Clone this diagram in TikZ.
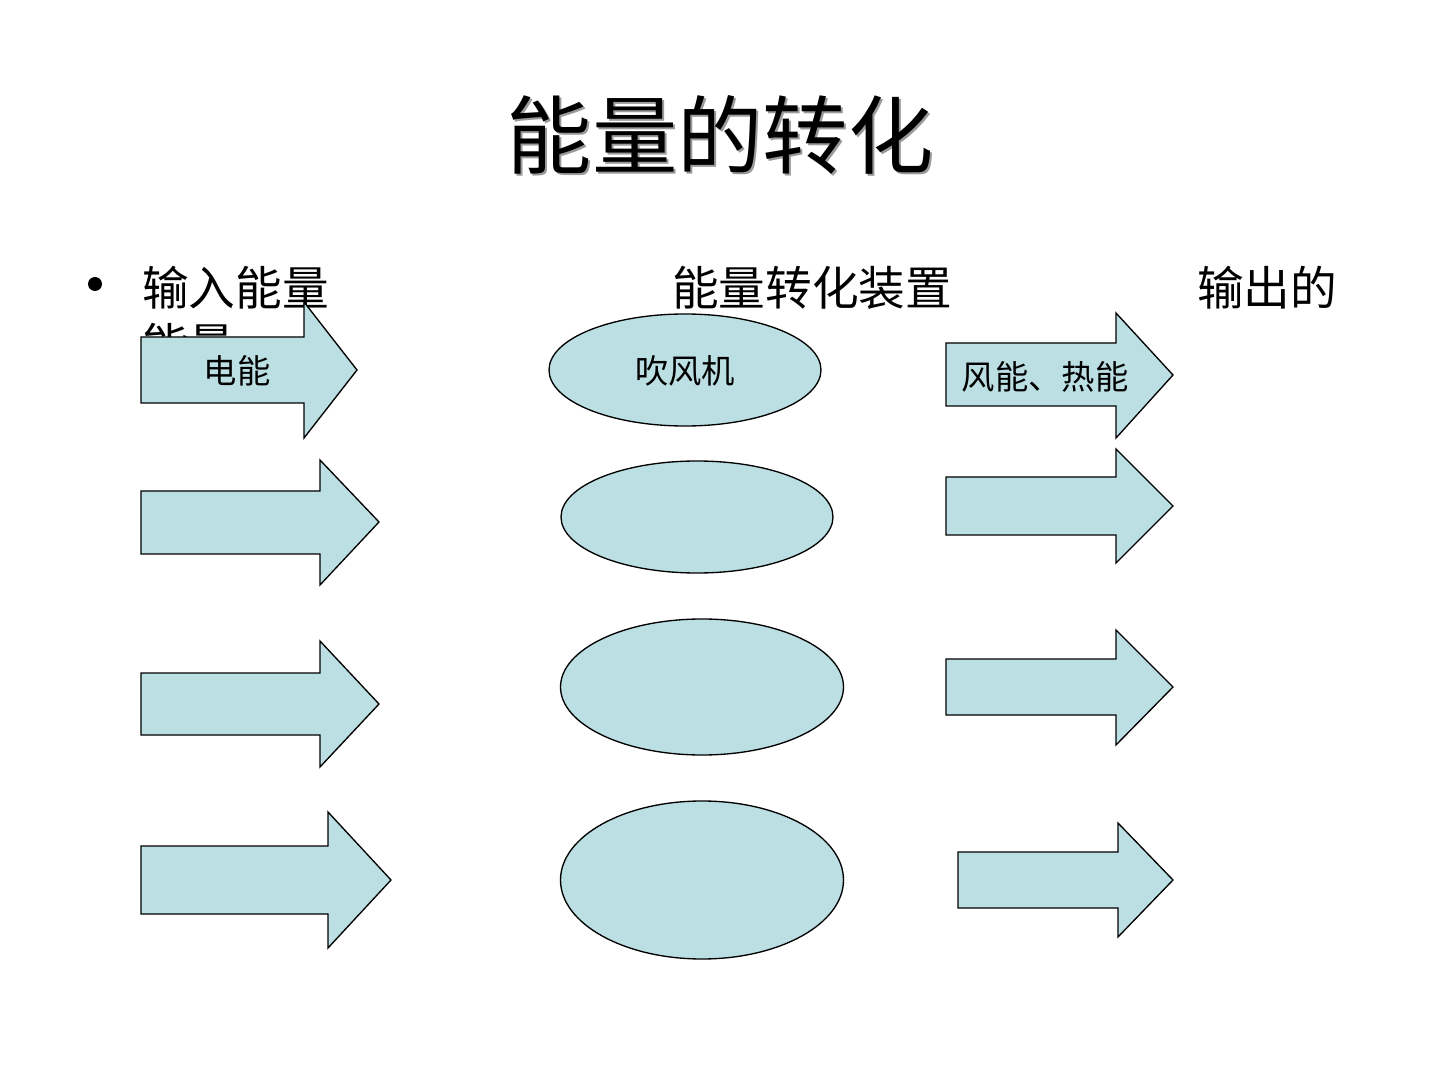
\documentclass[tikz,border=0pt]{standalone}
\usepackage{fontspec}
\setmainfont{Noto Sans CJK SC}
\usetikzlibrary{shapes.geometric}
\definecolor{shapefill}{HTML}{BBDFE3}
\definecolor{shadowgray}{HTML}{9A9A9A}
\tikzset{
  shapeline/.style={draw=black, line width=1pt, fill=shapefill, line join=miter},
  title/.style={font=\fontsize{64}{70}\selectfont, inner sep=0pt},
  heading/.style={font=\fontsize{35}{42}\selectfont, inner sep=0pt, anchor=base west},
  label/.style={font=\fontsize{25}{30}\selectfont, inner sep=0pt},
  device/.style={shapeline, ellipse, inner sep=0pt},
}
% block arrow: #1 name, #2 body left x, #3 head base x, #4 tip x,
% #5 body top y, #6 body bottom y, #7 head top y, #8 head bottom y, #9 tip y
\newcommand{\blockarrow}[9]{%
  \draw[shapeline] (#2,#5) -- (#3,#5) -- (#3,#7) -- (#4,#9) -- (#3,#8)
    -- (#3,#6) -- (#2,#6) -- cycle;
  \coordinate (#1) at ({(#2+#4)/2},#9);
}
\begin{document}
\begin{tikzpicture}[x=0.75pt, y=-0.75pt]
\useasboundingbox (0,0) rectangle (1440,1080);
\fill[white] (0,0) rectangle (1440,1080);

% title with its soft shadow
\node[title, text=shadowgray] (titleshadow) at (722,137) {能量的转化};
\node[title] (title) at (720,135) {能量的转化};

% bullet line
\fill (95,284) circle (7);
\node[heading] (inlabel) at (142,306) {输入能量};
\node[heading] (inwrap) at (142,363) {能量};
\node[heading] (devlabel) at (672,306) {能量转化装置};
\node[heading] (outlabel) at (1197,306) {输出的};

% input arrows
\blockarrow{in1}{141}{304}{357}{337}{403}{302}{438}{370}
\blockarrow{in2}{141}{320}{379}{491}{554}{460}{585}{522}
\blockarrow{in3}{141}{320}{379}{673}{735}{641}{767}{704}
\blockarrow{in4}{141}{328}{391}{846}{914}{812}{948}{880}

% conversion devices
\node[device, minimum width=272*0.75pt, minimum height=112*0.75pt] (dev1) at (685,370) {};
\node[device, minimum width=272*0.75pt, minimum height=112*0.75pt] (dev2) at (697,517) {};
\node[device, minimum width=283*0.75pt, minimum height=136*0.75pt] (dev3) at (702,687) {};
\node[device, minimum width=283*0.75pt, minimum height=158*0.75pt] (dev4) at (702,880) {};

% output arrows
\blockarrow{out1}{946}{1116}{1173}{343}{406}{313}{438}{375}
\blockarrow{out2}{946}{1116}{1173}{477}{535}{449}{563}{506}
\blockarrow{out3}{946}{1116}{1173}{659}{715}{630}{745}{687}
\blockarrow{out4}{958}{1118}{1173}{852}{908}{823}{937}{880}

% labels on the first row
\node[label] (in1text) at (237,371) {电能};
\node[label] (dev1text) at (685,371) {吹风机};
\node[label] (out1text) at (1045,377) {风能、热能};
\end{tikzpicture}
\end{document}
